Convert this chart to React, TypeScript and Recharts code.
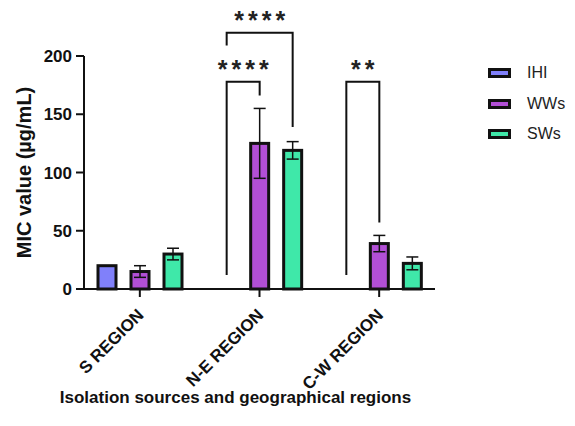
import React from 'react';
import { BarChart, Bar, XAxis, YAxis, ErrorBar } from 'recharts';

const regions = ['S REGION', 'N-E REGION', 'C-W REGION'];
const ihiValues = [20, null, null];
const ihiErrors = [0, 0, 0];
const wwsValues = [15, 125, 39];
const wwsErrors = [5, 30, 7];
const swsValues = [30, 119, 22];
const swsErrors = [5, 7.5, 5.5];
const yTicks = [0, 50, 100, 150, 200];

// significance brackets: drawn from the (empty) IHI slot to the target bar
const brackets = [
  { region: 'N-E REGION', target: 'wws', level: 178, leftFoot: 12, rightFoot: 166, stars: '****' },
  { region: 'N-E REGION', target: 'sws', level: 220, leftFoot: 209, rightFoot: 139, stars: '****' },
  { region: 'C-W REGION', target: 'wws', level: 178, leftFoot: 12, rightFoot: 57, stars: '**' },
];

const series = [
  { key: 'ihi', name: 'IHI', color: '#8080FA' },
  { key: 'wws', name: 'WWs', color: '#B24FD6' },
  { key: 'sws', name: 'SWs', color: '#3FE8A9' },
];

const data = regions.map((region, i) => ({
  region,
  ihi: ihiValues[i],
  ihiErr: ihiErrors[i],
  wws: wwsValues[i],
  wwsErr: wwsErrors[i],
  sws: swsValues[i],
  swsErr: swsErrors[i],
}));

const BAR = 18;
const GAP = 15;
const FONT = 'Liberation Sans, Arial, Helvetica, sans-serif';

const makeShape = (key: string, slot: number) => (props: any) => {
  const { x, y, width, height, fill, payload } = props;
  const value = payload[key];
  const base = y + height;
  const toPx = (v: number) => base - (v * height) / value;
  const cx = x + width / 2;
  const left = cx - slot * (BAR + GAP);
  const marks = brackets.filter((b) => b.region === payload.region && b.target === key);
  return (
    <g>
      <rect x={x} y={y} width={width} height={height} fill={fill} stroke="#111" strokeWidth={3} />
      {marks.map((b, i) => {
        const top = toPx(b.level);
        return (
          <g key={i}>
            <polyline
              points={`${left},${toPx(b.leftFoot)} ${left},${top} ${cx},${top} ${cx},${toPx(b.rightFoot)}`}
              fill="none"
              stroke="#111"
              strokeWidth={2}
            />
            <text
              x={(left + cx) / 2 + 2}
              y={top - 4}
              textAnchor="middle"
              fontFamily={FONT}
              fontWeight="bold"
              fontSize={25}
              letterSpacing={4}
              fill="#222"
            >
              {b.stars}
            </text>
          </g>
        );
      })}
    </g>
  );
};

const RegionTick = (props: any) => {
  const { x, y, payload } = props;
  return (
    <g transform={`translate(${x},${y})`}>
      <text
        x={0}
        y={0}
        dy={15.5}
        dx={-8.5}
        textAnchor="end"
        transform="rotate(-45)"
        fontFamily={FONT}
        fontWeight="bold"
        fontSize={17}
        fill="#111"
      >
        {payload.value}
      </text>
    </g>
  );
};

const LegendBox = () => (
  <div
    style={{
      position: 'absolute',
      left: 488,
      top: 58,
      fontFamily: FONT,
      fontSize: 16,
      color: '#222',
    }}
  >
    {series.map((s) => (
      <div key={s.key} style={{ display: 'flex', alignItems: 'center', height: 30.5 }}>
        <span
          style={{
            display: 'inline-block',
            width: 17,
            height: 4,
            background: s.color,
            border: '3px solid #111',
            marginRight: 16,
          }}
        />
        {s.name}
      </div>
    ))}
  </div>
);

export default function App() {
  return (
    <div style={{ position: 'absolute', left: 0, top: 0, width: 575, height: 426, background: '#fff' }}>
      <BarChart
        width={575}
        height={426}
        data={data}
        margin={{ top: 56, right: 140, bottom: 7, left: 24 }}
        barSize={BAR}
        barGap={GAP}
      >
        <XAxis
          dataKey="region"
          height={130}
          axisLine={{ stroke: '#111', strokeWidth: 2 }}
          tickLine={{ stroke: '#111', strokeWidth: 2 }}
          tickSize={8}
          tick={<RegionTick />}
          interval={0}
          padding={{ left: -4, right: -4 }}
          label={{
            value: 'Isolation sources and geographical regions',
            position: 'insideBottom',
            offset: 16,
            dx: -24,
            style: { fontFamily: FONT, fontWeight: 'bold', fontSize: 17, fill: '#111' },
          }}
        />
        <YAxis
          width={60}
          domain={[0, 200]}
          ticks={yTicks}
          axisLine={{ stroke: '#111', strokeWidth: 2 }}
          tickLine={{ stroke: '#111', strokeWidth: 2 }}
          tickSize={8}
          tickMargin={4}
          tick={{ fontFamily: FONT, fontWeight: 'bold', fontSize: 17, fill: '#111' }}
          label={{
            value: 'MIC value (µg/mL)',
            angle: -90,
            position: 'center',
            dx: -30,
            style: { fontFamily: FONT, fontWeight: 'bold', fontSize: 20, fill: '#111', textAnchor: 'middle' },
          }}
        />
        <Bar dataKey="ihi" name="IHI" fill={series[0].color} isAnimationActive={false} shape={makeShape('ihi', 0)}>
          <ErrorBar dataKey="ihiErr" width={6} stroke="#111" strokeWidth={1.5} />
        </Bar>
        <Bar dataKey="wws" name="WWs" fill={series[1].color} isAnimationActive={false} shape={makeShape('wws', 1)}>
          <ErrorBar dataKey="wwsErr" width={6} stroke="#111" strokeWidth={1.5} />
        </Bar>
        <Bar dataKey="sws" name="SWs" fill={series[2].color} isAnimationActive={false} shape={makeShape('sws', 2)}>
          <ErrorBar dataKey="swsErr" width={6} stroke="#111" strokeWidth={1.5} />
        </Bar>
      </BarChart>
      <LegendBox />
    </div>
  );
}
